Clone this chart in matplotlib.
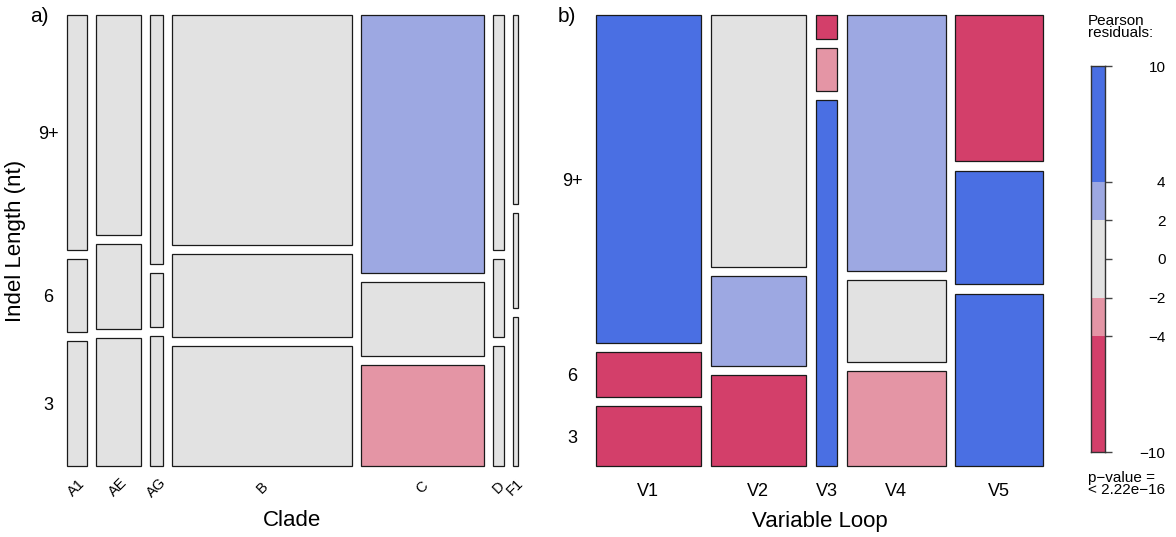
import numpy as np
import matplotlib
matplotlib.use("Agg")
import matplotlib.pyplot as plt

plt.rcParams['font.family'] = ['Liberation Sans', 'DejaVu Sans']

# --- données ---
lengths = ['3', '6', '9+']

clades = ['A1', 'AE', 'AG', 'B', 'C', 'D', 'F1']
clade_n = [50, 113, 33, 455, 309, 27, 13]
# part (%) des indels 3, 6, 9+ nt par clade
clade_3 = [28.9, 29.5, 30.0, 27.7, 23.3, 27.8, 34.4]
clade_6 = [16.9, 19.7, 12.4, 19.2, 17.1, 17.9, 21.9]
clade_9 = [54.2, 50.8, 57.6, 53.1, 59.6, 54.3, 43.7]
# résidus de Pearson (approximatifs)
clade_res_3 = [0.3, 0.5, 0.2, 1.2, -3.1, 0.1, 0.4]
clade_res_6 = [-0.4, 1.0, -0.9, 1.3, -1.1, 0.0, 0.2]
clade_res_9 = [0.1, -1.1, 0.5, -1.6, 2.9, -0.1, -0.5]

loops = ['V1', 'V2', 'V3', 'V4', 'V5']
loop_n = [257, 234, 53, 241, 215]
loop_3 = [13.8, 21.0, 84.6, 22.0, 39.8]
loop_6 = [10.4, 20.7, 9.9, 18.9, 26.3]
loop_9 = [75.8, 58.3, 5.5, 59.1, 33.8]
loop_res_3 = [-7.5, -5.2, 9.0, -3.0, 6.8]
loop_res_6 = [-5.4, 2.6, -2.7, 0.4, 5.1]
loop_res_9 = [8.8, 0.9, -6.6, 3.2, -8.1]

res_breaks = [-10, -4, -2, 2, 4, 10]
res_colors = ['#D33F6A', '#E495A5', '#E2E2E2', '#9DA8E2', '#4A6FE3']
legend_ticks = [-10, -4, -2, 0, 2, 4, 10]

W, H = 1176, 537


def px_box(x0, y0, x1, y1):
    """Convertit une boîte en pixels (origine en haut) en coordonnées figure"""
    return [x0 / W, 1 - y1 / H, (x1 - x0) / W, (y1 - y0) / H]


def res_color(r):
    idx = np.searchsorted(res_breaks[1:-1], r)
    return res_colors[idx]


def mosaic(ax, names, counts, shares, resid, gap_x, gap_y):
    counts = np.array(counts, dtype=float)
    shares = np.array(shares, dtype=float)   # lignes: 3, 6, 9+
    widths = counts / counts.sum() * (1 - gap_x * (len(names) - 1))
    lefts = np.concatenate([[0], np.cumsum(widths + gap_x)[:-1]])
    first_centers = []
    for j in range(len(names)):
        col = shares[:, j] / shares[:, j].sum() * (1 - gap_y * 2)
        bottom = 0.0
        for i in range(len(col)):
            ax.bar(lefts[j], col[i], width=widths[j], bottom=bottom, align='edge',
                   color=res_color(resid[i][j]), edgecolor='#1a1a1a', linewidth=0.9,
                   clip_on=False)
            if j == 0:
                first_centers.append(bottom + col[i] / 2)
            bottom += col[i] + gap_y
    ax.set_xlim(0, 1)
    ax.set_ylim(0, 1)
    for s in ax.spines.values():
        s.set_visible(False)
    ax.set_xticks(lefts + widths / 2)
    ax.set_xticklabels(names)
    ax.set_yticks(first_centers)
    ax.set_yticklabels(lengths)
    ax.tick_params(length=0)


fig = plt.figure(figsize=(W / 100, H / 100), dpi=100)

# a) Clade
ax_a = fig.add_axes(px_box(67, 15, 518, 466))
mosaic(ax_a, clades, clade_n, [clade_3, clade_6, clade_9],
       [clade_res_3, clade_res_6, clade_res_9], 0.0206, 0.02)
ax_a.tick_params(axis='y', labelsize=13, pad=13.7)
ax_a.tick_params(axis='x', labelsize=10.5, pad=15.5)
for lab in ax_a.get_yticklabels():
    lab.set_ha('center')
for lab in ax_a.get_xticklabels():
    lab.set_rotation(45)
    lab.set_rotation_mode('anchor')
    lab.set_ha('center')
    lab.set_va('center')
ax_a.text(0.5, -(520 - 466) / 451, 'Clade', transform=ax_a.transAxes,
          ha='center', va='center', fontsize=16)
ax_a.text(-(67 - 16) / 451, 0.5, 'Indel Length (nt)', transform=ax_a.transAxes,
          ha='center', va='center', rotation=90, fontsize=16)
fig.text(30 / W, 1 - 16 / H, 'a)', ha='left', va='center', fontsize=15)

# b) Variable loop
ax_b = fig.add_axes(px_box(596, 15, 1043, 466))
mosaic(ax_b, loops, loop_n, [loop_3, loop_6, loop_9],
       [loop_res_3, loop_res_6, loop_res_9], 0.022, 0.02)
ax_b.tick_params(axis='y', labelsize=13, pad=17)
ax_b.tick_params(axis='x', labelsize=13, pad=12.5)
for lab in ax_b.get_yticklabels():
    lab.set_ha('center')
ax_b.text(0.5, -(522 - 466) / 451, 'Variable Loop', transform=ax_b.transAxes,
          ha='center', va='center', fontsize=16)
fig.text(558 / W, 1 - 16 / H, 'b)', ha='left', va='center', fontsize=15)

# légende des résidus
ax_l = fig.add_axes(px_box(1091, 66, 1105, 452))
for lo, hi, c in zip(res_breaks[:-1], res_breaks[1:], res_colors):
    ax_l.bar(0.5, hi - lo, bottom=lo, width=1, color=c, linewidth=0)
ax_l.set_xlim(0, 1)
ax_l.set_ylim(-10, 10)
ax_l.set_xticks([])
ax_l.yaxis.tick_right()
ax_l.set_yticks(legend_ticks)
ax_l.set_yticklabels([str(t).replace('-', '\u2212') for t in legend_ticks])
ax_l.tick_params(axis='y', length=5, width=1, color='#444444', labelsize=11, pad=38.5)
for lab in ax_l.get_yticklabels():
    lab.set_ha('right')
for s in ax_l.spines.values():
    s.set_color('#333333')
    s.set_linewidth(1)

fig.text(1088 / W, 1 - 27 / H, 'Pearson\nresiduals:', ha='left', va='center',
         fontsize=11, linespacing=0.85)
fig.text(1088 / W, 1 - 484 / H, 'p\u2212value =\n< 2.22e\u221216', ha='left', va='center',
         fontsize=11, linespacing=0.85)

fig.savefig('out.png', dpi=100)
